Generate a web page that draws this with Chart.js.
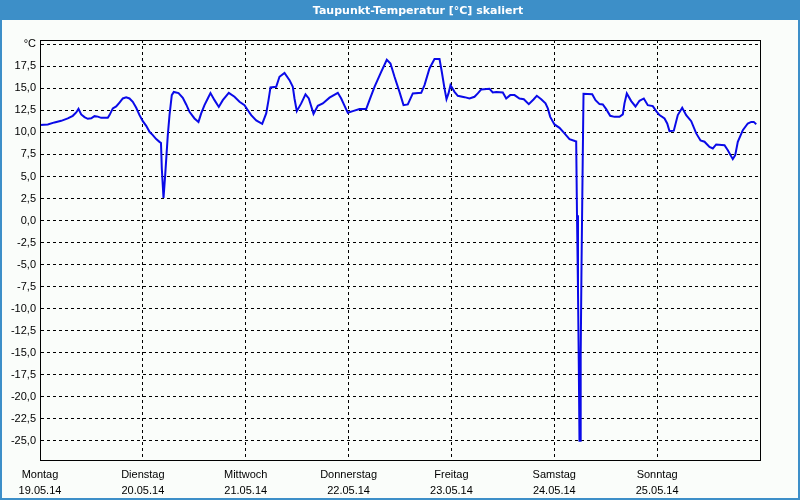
<!DOCTYPE html>
<html>
<head>
<meta charset="utf-8">
<script src="https://cdn.jsdelivr.net/npm/chart.js@4/dist/chart.umd.min.js"></script>
<style>
  html, body { margin: 0; padding: 0; background: #fafdfa; }
  canvas { display: block; }
</style>
</head>
<body>
<canvas id="c" width="800" height="500"></canvas>
<script>
// ---- data (hours since 19.05.14 00:00, dew point in °C) ----
const hours = [
  0, 1.82, 3.38, 4.95, 6.49, 7.65, 8.45, 8.98, 9.61, 10.38, 11.15, 11.95, 12.72, 13.49, 14.28, 15.82, 16.22, 16.99, 17.78, 18.55,
  19.32, 20.11, 20.88, 21.65, 22.45, 23.22, 23.99, 24.78, 25.55, 26.32, 27.11, 27.88, 28.23, 28.42, 28.82, 29.21, 29.82, 30.22, 30.75, 31.22,
  32.32, 33.32, 34.11, 34.88, 36.05, 36.98, 37.61, 38.38, 39.15, 39.78, 40.72, 41.72, 42.65, 44.05, 45.38, 46.55, 47.72, 48.49, 49.28, 50.45,
  51.85, 52.78, 53.32, 53.78, 55.11, 55.88, 57.05, 58.22, 58.99, 59.38, 59.92, 60.95, 61.95, 62.72, 63.82, 64.82, 65.99, 67.55, 69.49, 70.28,
  71.82, 72.99, 74.55, 76.11, 76.88, 78.05, 79.61, 80.92, 81.78, 82.72, 83.88, 84.82, 85.82, 86.99, 88.95, 89.72, 90.88, 92.05, 93.22, 93.75,
  94.38, 94.85, 95.32, 95.78, 96.72, 97.49, 99.05, 100.22, 101.38, 102.15, 102.95, 104.88, 105.65, 106.45, 107.99, 108.78, 109.72, 110.72, 111.88, 112.89,
  114.05, 115.15, 115.92, 116.95, 117.95, 118.49, 119.05, 120.05, 121.22, 122.38, 123.55, 124.95, 125.11, 125.3, 125.53, 125.72, 125.88, 126.05, 126.16, 126.35,
  126.58, 126.82, 128.85, 129.62, 130.55, 131.32, 132.11, 133.05, 134.05, 135.22, 135.99, 136.38, 136.92, 137.95, 138.95, 139.88, 140.89, 141.82, 142.99, 143.78,
  144.55, 145.72, 146.35, 146.88, 147.89, 148.82, 149.85, 150.78, 151.95, 153.12, 154.12, 155.05, 156.22, 156.99, 157.78, 159.72, 160.49, 161.65, 162.22, 162.82,
  163.99, 165.15, 165.95, 166.55, 167.12
];
const dewPoint = [
  10.86, 10.9, 11.14, 11.32, 11.59, 11.89, 12.27, 12.68, 12.05, 11.74, 11.55, 11.6, 11.85, 11.8, 11.66, 11.66, 11.97, 12.73, 12.95, 13.4,
  13.86, 13.98, 13.86, 13.48, 12.8, 11.97, 11.28, 10.75, 10.07, 9.7, 9.24, 8.93, 8.8, 5.9, 2.57, 5.15, 9.7, 11.97, 14.24, 14.6,
  14.47, 13.93, 13.18, 12.34, 11.59, 11.2, 12.16, 13.1, 13.86, 14.47, 13.67, 12.9, 13.67, 14.5, 14.05, 13.48, 13.1, 12.53, 11.97, 11.36,
  10.98, 12.16, 13.67, 15.11, 15.18, 16.32, 16.77, 15.94, 15.18, 13.86, 12.42, 13.3, 14.32, 13.86, 12.11, 13.02, 13.3, 13.95, 14.5, 13.86,
  12.23, 12.42, 12.65, 12.65, 13.67, 15.18, 16.89, 18.25, 17.84, 16.32, 14.61, 13.1, 13.18, 14.43, 14.5, 15.38, 17.27, 18.33, 18.33, 16.89,
  15.0, 13.78, 14.43, 15.38, 14.61, 14.16, 14.01, 13.86, 14.05, 14.43, 14.89, 14.95, 14.55, 14.6, 14.55, 13.86, 14.24, 14.24, 13.86, 13.78,
  13.22, 13.75, 14.16, 13.78, 13.3, 12.73, 11.77, 10.91, 10.52, 9.89, 9.24, 9.01, 9.0, 0.6, -7.9, -16.4, -25.0, -25.0, -15.3, -5.3,
  4.5, 14.39, 14.35, 13.67, 13.22, 13.18, 12.65, 11.89, 11.77, 11.77, 12.05, 13.3, 14.43, 13.56, 12.95, 13.6, 13.86, 13.1, 12.99, 12.42,
  11.97, 11.59, 11.02, 10.15, 10.2, 11.97, 12.8, 11.97, 11.28, 9.89, 9.09, 8.95, 8.36, 8.18, 8.64, 8.56, 7.99, 6.97, 7.42, 8.93,
  10.26, 11.02, 11.2, 11.2, 10.94
];
const dayTicks = [0, 24, 48, 72, 96, 120, 144];
const dayNames = ['Montag', 'Dienstag', 'Mittwoch', 'Donnerstag', 'Freitag', 'Samstag', 'Sonntag'];
const dayDates = ['19.05.14', '20.05.14', '21.05.14', '22.05.14', '23.05.14', '24.05.14', '25.05.14'];
const yTicks = [-25, -22.5, -20, -17.5, -15, -12.5, -10, -7.5, -5, -2.5, 0, 2.5, 5, 7.5, 10, 12.5, 15, 17.5, 20];
const titleText = 'Taupunkt-Temperatur [°C] skaliert';
const unitLabel = '°C';

const FONT = "'Liberation Sans', Arial, sans-serif";
const TITLE_FONT = "'DejaVu Sans', Verdana, sans-serif";
const BLUE = '#3d8fc8';
const BG = '#fafdfa';

const windowPlugin = {
  id: 'windowFrame',
  afterLayout(chart) {
    // shift the title to its position in the reference window
    if (chart.titleBlock) { chart.titleBlock.left += 38; chart.titleBlock.right += 38; }
  },
  beforeDraw(chart) {
    const ctx = chart.ctx;
    ctx.save();
    ctx.fillStyle = BG;
    ctx.fillRect(0, 0, chart.width, chart.height);
    ctx.fillStyle = BLUE;
    ctx.fillRect(0, 0, chart.width, 20);
    ctx.fillRect(0, 0, 2, chart.height);
    ctx.fillRect(chart.width - 2, 0, 2, chart.height);
    ctx.fillRect(0, chart.height - 2, chart.width, 2);
    ctx.restore();
  },
  afterDraw(chart) {
    const a = chart.chartArea;
    const ctx = chart.ctx;
    ctx.save();
    ctx.strokeStyle = '#000';
    ctx.lineWidth = 1;
    ctx.setLineDash([]);
    ctx.strokeRect(Math.round(a.left) + 0.5, Math.round(a.top) + 0.5, Math.round(a.right - a.left), Math.round(a.bottom - a.top));
    ctx.restore();
  }
};

new Chart(document.getElementById('c'), {
  type: 'line',
  data: {
    datasets: [{
      label: 'Taupunkt',
      data: hours.map((h, i) => ({ x: h, y: dewPoint[i] })),
      borderColor: '#0a0ae8',
      borderWidth: 2,
      pointRadius: 0,
      tension: 0,
      fill: false
    }]
  },
  options: {
    responsive: false,
    animation: false,
    devicePixelRatio: 1,
    layout: { padding: { top: 0, left: 0, right: 40, bottom: 0 } },
    plugins: {
      legend: { display: false },
      tooltip: { enabled: false },
      title: {
        display: true,
        text: titleText,
        color: '#ffffff',
        font: { family: TITLE_FONT, size: 11, weight: 'bold', lineHeight: 1.2 },
        padding: { top: 4.4, bottom: 22.4 }
      }
    },
    scales: {
      x: {
        type: 'linear',
        min: 0,
        max: 168,
        afterBuildTicks(scale) { scale.ticks = dayTicks.map(v => ({ value: v })); },
        afterFit(scale) { scale.height = 40; },
        grid: { color: '#000', lineWidth: 1, drawTicks: false },
        border: { display: true, color: '#000', width: 1, dash: [3, 3] },
        ticks: {
          autoSkip: false,
          maxRotation: 0,
          padding: 7,
          color: '#000',
          font: { family: FONT, size: 11, lineHeight: 1.43 },
          callback(value) {
            const i = dayTicks.indexOf(value);
            return i >= 0 ? [dayNames[i], dayDates[i]] : '';
          }
        }
      },
      y: {
        min: -27.2,
        max: 20.5,
        afterBuildTicks(scale) { scale.ticks = yTicks.map(v => ({ value: v })); },
        afterFit(scale) { scale.width = 40; },
        grid: { color: '#000', lineWidth: 1, drawTicks: false },
        border: { display: true, color: '#000', width: 1, dash: [3, 3] },
        ticks: {
          autoSkip: false,
          padding: 4,
          color: '#000',
          font: { family: FONT, size: 11 },
          callback(value) {
            if (value === 20) return unitLabel;
            return value.toFixed(1).replace('.', ',');
          }
        }
      }
    }
  },
  plugins: [windowPlugin]
});
</script>
</body>
</html>
